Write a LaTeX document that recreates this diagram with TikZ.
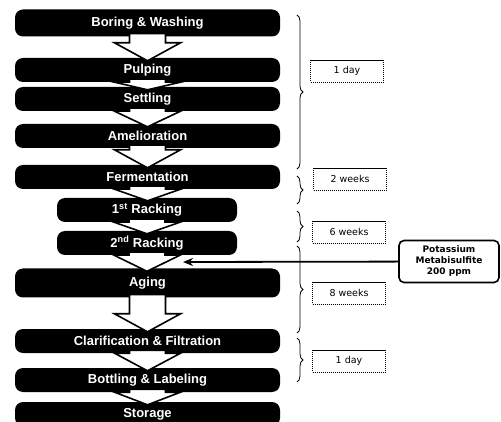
\documentclass[tikz,border=0pt]{standalone}
\usepackage{fontspec}
\setmainfont{Liberation Sans}
\newfontfamily\labelfont{DejaVu Sans}
\usepackage{tikz}
\usetikzlibrary{positioning,arrows.meta,calc,decorations.pathreplacing}

% hollow block arrow from one stage to the next
\newcommand{\flowarr}[2]{%
  \draw[hollow] let \p1=(#1.south), \p2=(#2.north), \n1={min(\y1,\y2+15pt)} in
    (\x1-18pt,\y1+3pt) -- (\x1+18pt,\y1+3pt) -- (\x1+18pt,\n1) -- (\x1+33pt,\n1)
    -- (\x1,\y2-3pt) -- (\x1-33pt,\n1) -- (\x1-18pt,\n1) -- cycle;}

\begin{document}
\begin{tikzpicture}[
  x=1pt, y=-1pt,
  stage/.style={fill=black, rounded corners=8pt, minimum height=24pt, minimum width=265pt, inner sep=0pt, text=white, font=\bfseries\fontsize{13}{15}\selectfont},
  rack/.style={stage, minimum width=180pt},
  hollow/.style={draw=black, fill=white, line width=1.6pt, line join=miter},
  period/.style={draw, dash pattern=on 1.2pt off 0.8pt, line width=0.7pt, minimum width=73pt, minimum height=22pt, font=\labelfont\fontsize{9.5}{11}\selectfont},
  bracket/.style={decorate, decoration={brace, amplitude=6pt}, line width=0.8pt},
  additive/.style={draw, line width=1.6pt, rounded corners=5pt, align=center, minimum width=100pt, minimum height=42pt, inner sep=1pt, font=\labelfont\bfseries\fontsize{9}{11}\selectfont},
  feed/.style={line width=1.8pt, -{Stealth[length=10pt, width=8pt]}}
]
\useasboundingbox (0,0) rectangle (501,422);

% process stages
\node[stage, minimum height=27pt] (wash) at (147.5,23) {Boring \& Washing};
\node[stage] (pulp) at (147.5,70) {Pulping};
\node[stage] (settle) at (147.5,99) {Settling};
\node[stage] (amel) at (147.5,136) {Amelioration};
\node[stage] (ferm) at (147.5,177) {Fermentation};
\node[rack] (rack1) at (147,210) {1\textsuperscript{st} Racking};
\node[rack] (rack2) at (147,243) {2\textsuperscript{nd} Racking};
\node[stage, minimum height=29pt] (aging) at (147.5,283) {Aging};
\node[stage] (clar) at (147.5,341) {Clarification \& Filtration};
\node[stage] (bottle) at (147.5,380) {Bottling \& Labeling};
\node[stage] (store) at (147.5,414) {Storage};

\foreach \a/\b in {wash/pulp, pulp/settle, settle/amel, amel/ferm, ferm/rack1,
                   rack1/rack2, rack2/aging, aging/clar, clar/bottle, bottle/store}
  \flowarr{\a}{\b};

% durations
\draw[bracket] (297,15) -- (297,169);
\draw[bracket] (297,176) -- (297,204);
\draw[bracket] (297,211) -- (297,242);
\draw[bracket] (297,246) -- (297,333);
\draw[bracket] (297,338) -- (297,382);

\node[period] (t1) at (347,71) {1 day};
\node[period] (t2) at (350,179) {2 weeks};
\node[period] (t3) at (349,232) {6 weeks};
\node[period] (t4) at (349,293) {8 weeks};
\node[period] (t5) at (349,361) {1 day};

% sulfite addition
\node[additive] (kms) at (449,261.5) {Potassium\\Metabisulfite\\200 ppm};
\coordinate (inlet) at (183,262);
\draw[feed] (kms) -- (inlet);
\end{tikzpicture}
\end{document}
